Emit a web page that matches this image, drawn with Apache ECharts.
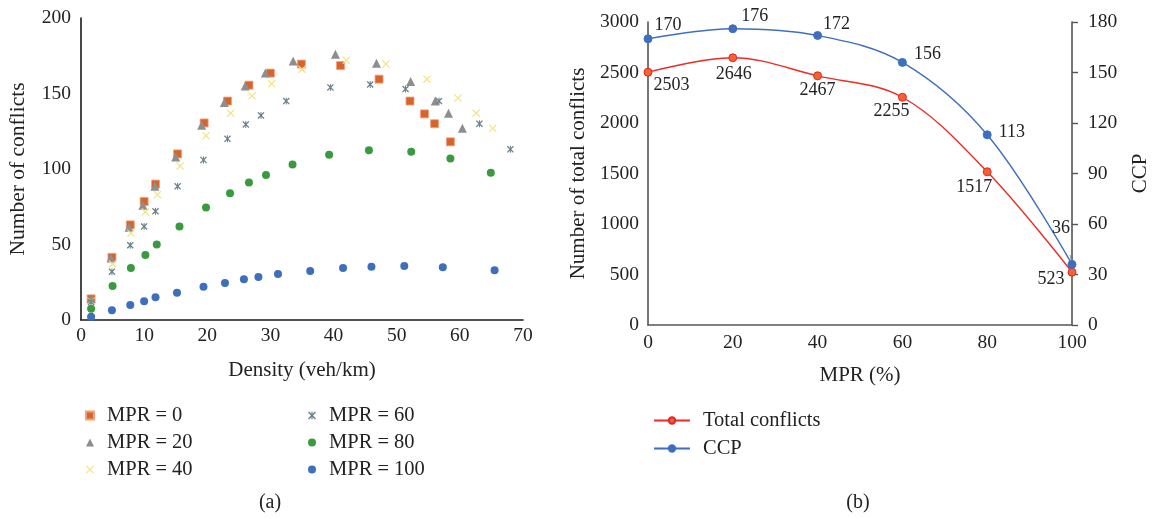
<!DOCTYPE html>
<html>
<head>
<meta charset="utf-8">
<title>Conflicts by density and MPR</title>
<script src="https://cdn.jsdelivr.net/npm/echarts@6/dist/echarts.min.js"></script>
<style>
  html, body { margin: 0; padding: 0; background: #fff; }
  #chart { width: 1152px; height: 519px; }
</style>
</head>
<body>
<div id="chart"></div>
<script>
/* (a) conflicts vs density per MPR, (b) total conflicts and CCP vs MPR */

// ---- panel (a): density (veh/km) and number of conflicts, one pair per MPR level
const density0   = [1.6, 4.9, 7.8, 10.0, 11.8, 15.3, 19.5, 23.2, 26.6, 30.0, 34.9, 41.1, 47.2, 52.1, 54.4, 56.0, 58.5];
const conflicts0 = [14, 41.5, 63, 78.5, 90, 110, 130.5, 145, 155.5, 163.5, 169.5, 168.5, 159.5, 145, 136.5, 130, 118];

const density20   = [1.6, 4.75, 7.6, 9.8, 11.7, 15.0, 19.1, 22.7, 26.0, 29.2, 33.6, 40.3, 46.8, 52.2, 56.1, 58.2, 60.4];
const conflicts20 = [14, 41, 61.5, 76, 88.5, 108, 129, 144, 155, 163.5, 171.5, 176, 170, 158, 145, 137, 127];

const density40   = [1.6, 5.0, 7.9, 10.2, 12.1, 15.7, 19.8, 23.7, 27.1, 30.2, 35.0, 42.0, 48.3, 54.8, 59.7, 62.6, 65.2];
const conflicts40 = [12.5, 37, 57.5, 71.5, 83, 102, 122, 137, 148.5, 156.5, 166, 172, 169.5, 159.5, 147, 137, 127];

const density60   = [1.6, 4.9, 7.8, 10.0, 11.8, 15.3, 19.4, 23.2, 26.1, 28.5, 32.5, 39.5, 45.8, 51.4, 56.7, 63.1, 68.0];
const conflicts60 = [12, 32, 49.5, 62, 72, 88.5, 106, 120, 129.5, 135.5, 145, 154, 156, 153, 145, 130, 113];

const density80   = [1.6, 5.0, 7.9, 10.2, 12.0, 15.6, 19.8, 23.6, 26.6, 29.3, 33.5, 39.3, 45.6, 52.3, 58.5, 64.9];
const conflicts80 = [7.5, 22.5, 34.5, 43, 50, 62, 74.5, 84, 91, 96, 103, 109.5, 112.5, 111.5, 107, 97.5];

const density100   = [1.6, 4.9, 7.8, 10.0, 11.8, 15.2, 19.4, 22.8, 25.8, 28.1, 31.2, 36.3, 41.5, 46.0, 51.2, 57.3, 65.5];
const conflicts100 = [2.2, 6.5, 10, 12.5, 15, 18, 22, 24.5, 27, 28.5, 30.5, 32.5, 34.5, 35.3, 35.8, 35, 33];

// ---- panel (b)
const mpr            = [0, 20, 40, 60, 80, 100];
const totalConflicts = [2503, 2646, 2467, 2255, 1517, 523];
const ccp            = [170, 176, 172, 156, 113, 36];

const FONT = "'Liberation Serif', 'Times New Roman', serif";
const INK = "#222";

const X_MARK = "path://M0,1 L1,0 L5,4 L9,0 L10,1 L6,5 L10,9 L9,10 L5,6 L1,10 L0,9 L4,5 Z";
const STAR_MARK = "path://M0,1.3 L1.3,0 L5,3.7 L8.7,0 L10,1.3 L6.3,5 L10,8.7 L8.7,10 L5,6.3 L1.3,10 L0,8.7 L3.7,5 Z " +
                  "M4.3,0 L5.7,0 L5.7,10 L4.3,10 Z";

function scatter(name, xs, ys, symbol, size, color, border) {
  return {
    name: name, type: "scatter", xAxisIndex: 0, yAxisIndex: 0,
    symbol: symbol, symbolSize: size,
    itemStyle: { color: color, borderColor: border || color, borderWidth: border ? 0.8 : 0, opacity: 1 },
    data: xs.map(function (x, i) { return [x, ys[i]]; })
  };
}

// label placement for panel (b)
const totalLabelPos = ["right", "bottom", "bottom", "bottom", "bottom", "left"];
const totalLabelOff = [[-4, 13], [1, -2], [0, -4], [-11, -4], [-13, -3], [2, 7]];
const ccpLabelPos = ["right", "right", "right", "right", "right", "top"];
const ccpLabelOff = [[-3, -14], [-1, -12], [-4, -11], [2, -8], [2, -3], [-11, -18]];

const plainNum = function (v) { return String(v); };
const axisText = { color: INK, fontFamily: FONT, fontSize: 19.5, formatter: plainNum };
const nameText = { color: INK, fontFamily: FONT, fontSize: 21 };
const legendText = { color: INK, fontFamily: FONT, fontSize: 20.5, padding: [0, 0, 0, 8] };

const chart = echarts.init(document.getElementById("chart"), null, { renderer: "canvas" });

chart.setOption({
  animation: false,
  backgroundColor: "#fff",
  textStyle: { fontFamily: FONT },
  grid: [
    { left: 81, top: 18, width: 442, height: 302 },
    { left: 648, top: 22, width: 424, height: 303 }
  ],
  xAxis: [
    {
      gridIndex: 0, type: "value", min: 0, max: 70, interval: 10,
      name: "Density (veh/km)", nameLocation: "middle", nameGap: 40, nameTextStyle: nameText,
      axisLine: { lineStyle: { color: "#1a1a1a", width: 1.6 } },
      axisTick: { show: false }, splitLine: { show: false },
      axisLabel: Object.assign({ margin: 6 }, axisText)
    },
    {
      gridIndex: 1, type: "value", min: 0, max: 100, interval: 20,
      name: "MPR (%)", nameLocation: "middle", nameGap: 40, nameTextStyle: nameText,
      axisLine: { lineStyle: { color: "#555", width: 1.6 } },
      axisTick: { show: false }, splitLine: { show: false },
      axisLabel: Object.assign({ margin: 8 }, axisText)
    }
  ],
  yAxis: [
    {
      gridIndex: 0, type: "value", min: 0, max: 200, interval: 50,
      name: "Number of conflicts", nameLocation: "middle", nameGap: 52, nameRotate: 90,
      nameTextStyle: Object.assign({}, nameText, { fontSize: 21.5 }),
      axisLine: { show: true, lineStyle: { color: "#1a1a1a", width: 1.6 } },
      axisTick: { show: false }, splitLine: { show: false },
      axisLabel: Object.assign({ margin: 10 }, axisText)
    },
    {
      gridIndex: 1, type: "value", min: 0, max: 3000, interval: 500, position: "left",
      name: "Number of total conflicts", nameLocation: "middle", nameGap: 59, nameRotate: 90,
      nameTextStyle: nameText,
      axisLine: { show: true, lineStyle: { color: "#555", width: 1.6 } },
      axisTick: { show: false }, splitLine: { show: false },
      axisLabel: Object.assign({ margin: 9 }, axisText)
    },
    {
      gridIndex: 1, type: "value", min: 0, max: 180, interval: 30, position: "right",
      name: "CCP", nameLocation: "middle", nameGap: 58, nameRotate: 90,
      nameTextStyle: nameText,
      axisLine: { show: true, lineStyle: { color: "#555", width: 1.6 } },
      axisTick: { show: true, inside: false, length: 6, lineStyle: { color: "#555", width: 1.4 } },
      splitLine: { show: false },
      axisLabel: Object.assign({ margin: 16 }, axisText)
    }
  ],
  legend: [
    {
      data: ["MPR = 0", "MPR = 20", "MPR = 40"], orient: "vertical",
      left: 80, top: 400, itemWidth: 8, itemHeight: 8, itemGap: 6,
      textStyle: legendText
    },
    {
      data: ["MPR = 60", "MPR = 80", "MPR = 100"], orient: "vertical",
      left: 303, top: 400, itemWidth: 8, itemHeight: 8, itemGap: 6,
      textStyle: legendText
    },
    {
      data: ["Total conflicts", "CCP"], orient: "vertical",
      left: 648, top: 405, itemWidth: 36, itemHeight: 8, itemGap: 7,
      textStyle: legendText
    }
  ],
  graphic: [
    { type: "text", x: 270, y: 503, style: { text: "(a)", fill: INK, font: "20px " + FONT, textAlign: "center", textVerticalAlign: "middle" } },
    { type: "text", x: 858, y: 503, style: { text: "(b)", fill: INK, font: "20px " + FONT, textAlign: "center", textVerticalAlign: "middle" } }
  ],
  series: [
    scatter("MPR = 0", density0, conflicts0, "rect", 8, "#D8632B", "#EFA27D"),
    scatter("MPR = 20", density20, conflicts20, "triangle", 9, "#8E8E8E"),
    scatter("MPR = 40", density40, conflicts40, X_MARK, 8, "#F4E27A"),
    scatter("MPR = 60", density60, conflicts60, STAR_MARK, 7, "#6B818C"),
    scatter("MPR = 80", density80, conflicts80, "circle", 8, "#3A9A40"),
    scatter("MPR = 100", density100, conflicts100, "circle", 8, "#3D6FBE"),
    {
      name: "Total conflicts", type: "line", xAxisIndex: 1, yAxisIndex: 1,
      smooth: 0.35, symbol: "circle", symbolSize: 8, z: 3,
      lineStyle: { color: "#EE2A26", width: 1.4 },
      itemStyle: { color: "#F4622E", borderColor: "#E3262A", borderWidth: 1 },
      label: { show: true, color: INK, fontFamily: FONT, fontSize: 18 },
      data: mpr.map(function (m, i) {
        return { value: [m, totalConflicts[i]], label: { position: totalLabelPos[i], offset: totalLabelOff[i] } };
      })
    },
    {
      name: "CCP", type: "line", xAxisIndex: 1, yAxisIndex: 2,
      smooth: 0.35, symbol: "circle", symbolSize: 8, z: 3,
      lineStyle: { color: "#3E6FBF", width: 1.4 },
      itemStyle: { color: "#3E6FBF", borderColor: "#3E6FBF", borderWidth: 1 },
      label: { show: true, color: INK, fontFamily: FONT, fontSize: 18 },
      data: mpr.map(function (m, i) {
        const item = { value: [m, ccp[i]], label: { position: ccpLabelPos[i], offset: ccpLabelOff[i] } };
        if (i === mpr.length - 1) item.labelLine = { show: true, lineStyle: { color: "#9a9a9a", width: 1 } };
        return item;
      })
    }
  ]
});
</script>
</body>
</html>
